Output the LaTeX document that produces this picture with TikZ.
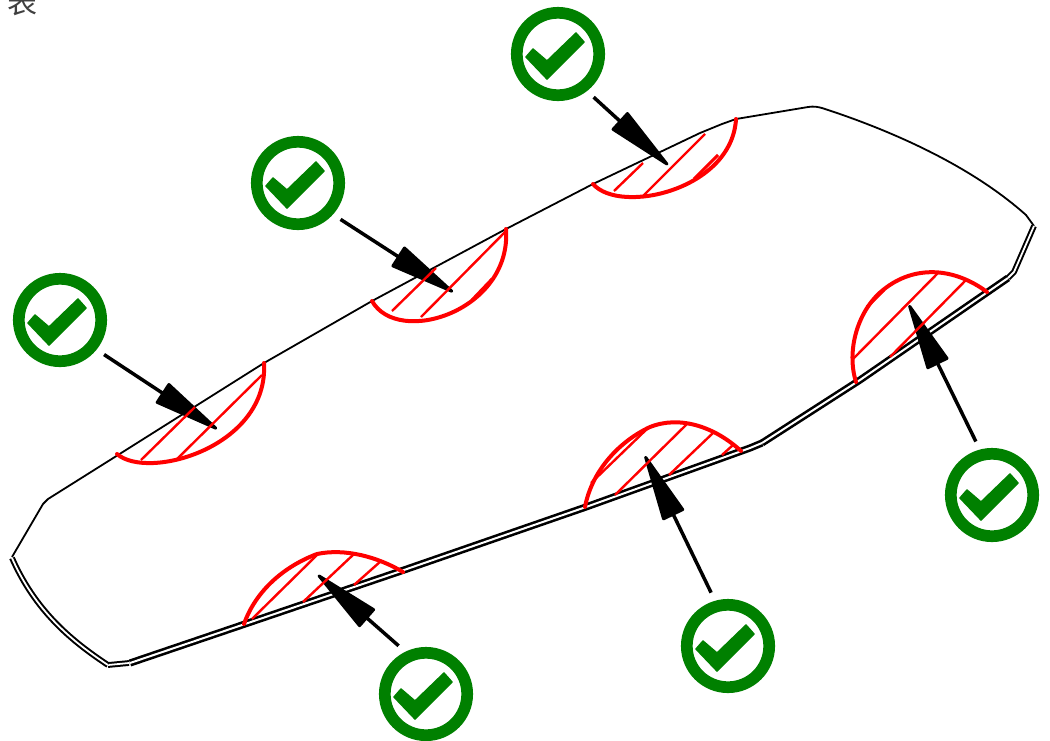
\documentclass[tikz,border=0pt]{standalone}
\usepackage{fontspec}
\usepackage{tikz}
\usetikzlibrary{arrows.meta}
\newfontfamily\cjkfont{Noto Sans CJK SC}
\definecolor{okgreen}{RGB}{0,128,0}
\tikzset{
	edgeline/.style={line width=1.8pt,line join=round},
	edgedouble/.style={line width=2.6pt,double=white,double distance=2pt,line join=round},
	edgethin/.style={line width=2pt,double=white,double distance=1.8pt,line join=round},
	okmark/.style={circle,draw=okgreen,line width=11.7pt,minimum size=82.4pt,inner sep=0pt,
		path picture={\filldraw[okgreen,line width=1.5pt,line join=round]
			([shift={(-32,3)}]path picture bounding box.center) --
			([shift={(-25,-5)}]path picture bounding box.center) --
			([shift={(-11,7)}]path picture bounding box.center) --
			([shift={(18,-21)}]path picture bounding box.center) --
			([shift={(26,-12)}]path picture bounding box.center) --
			([shift={(-11,25)}]path picture bounding box.center) -- cycle;}},
	okarrow/.style={line width=3.5pt,shorten <=9pt,
		-{Triangle[length=74pt,width=24pt,line width=3pt,round]}},
	redarc/.style={red,line width=4pt,line cap=round},
	redthick/.style={red,line width=3pt},
	redhatch/.style={red,line width=2.4pt}
}
\begin{document}
\begin{tikzpicture}[x=1pt,y=-1pt]
	
	\useasboundingbox (0,0) rectangle (1050,740);
	
	\node[text=black!75,font=\cjkfont\fontsize{30pt}{30pt}\selectfont,inner sep=0pt] (biao) at (23,2) {表};
	
	% outline
	\draw[edgeline] (12,557) -- (43,504) -- (48,499) -- (118,455) -- (264,363) -- (372,301)
		-- (506,229) -- (593,184) -- (700,133) -- (722,124) -- (736,119) -- (808,107)
		.. controls (814,106) and (818,107) .. (822,108)
		.. controls (890,130) and (970,165) .. (1026,215) -- (1034,226);
	\draw[edgethin] (1034,226) -- (1014,272) -- (1008,278);
	\draw[edgedouble] (1008,278) -- (860,380) -- (762,443);
	\draw[edgedouble] (762,443) -- (750,448) -- (586,507) -- (404,570) -- (245,624) -- (130,663);
	\draw[edgethin] (129,663) -- (108,665);
	\draw[edgethin] (108,665) .. controls (70,640) and (35,610) .. (12,558);
	
	% check marks
	\node[okmark] (ok1) at (60,320) {};
	\node[okmark] (ok2) at (298,183) {};
	\node[okmark] (ok3) at (558,54) {};
	\node[okmark] (ok4) at (992,495) {};
	\node[okmark] (ok5) at (728,646) {};
	\node[okmark] (ok6) at (426,694) {};
	
	\coordinate (tip1) at (217,429);
	\coordinate (tip2) at (453,292);
	\coordinate (tip3) at (668,165);
	\coordinate (tip4) at (909,305);
	\coordinate (tip5) at (645,456);
	\coordinate (tip6) at (318,575);
	
	\draw[okarrow] (ok1.-39) -- (tip1);
	\draw[okarrow] (ok2.-42) -- (tip2);
	\draw[okarrow] (ok3.-52) -- (tip3);
	\draw[okarrow] (ok4.105) -- (tip4);
	\draw[okarrow] (ok5.106) -- (tip5);
	\draw[okarrow] (ok6.116) -- (tip6);
	
	% hatched zones
	\draw[redarc] (117,454) .. controls (148,481) and (269,447) .. (264,363);
	\draw[redhatch] (141,460) -- (195,407);
	\draw[redhatch] (176,460) -- (262,375);
	
	\draw[redarc] (372,301) .. controls (398,347) and (512,311) .. (506,229);
	\draw[redthick] (472,300) -- (492,279);
	\draw[redhatch] (392,311) -- (436,268);
	\draw[redhatch] (421,317) -- (505,232);
	
	\draw[redarc] (593,184) .. controls (620,215) and (732,190) .. (736,119);
	\draw[redthick] (694,179) -- (718,155);
	\draw[redhatch] (614,191) -- (643,163);
	\draw[redhatch] (643,196) -- (705,134);
	
	\draw[redarc] (856,382) .. controls (846,350) and (858,310) .. (883,290)
		.. controls (915,264) and (955,268) .. (987,292);
	\draw[redthick] (867,307) -- (884,290);
	\draw[redhatch] (853,359) -- (938,273);
	\draw[redhatch] (890,357) -- (966,280);
	
	\draw[redarc] (585,507) .. controls (592,470) and (620,441) .. (650,427)
		.. controls (680,415) and (715,427) .. (741,451);
	\draw[redhatch] (591,483) -- (649,427);
	\draw[redhatch] (615,495) -- (687,424);
	\draw[redhatch] (669,475) -- (713,433);
	\draw[redhatch] (722,455) -- (733,445);
	
	\draw[redarc] (244,624) .. controls (256,590) and (285,566) .. (317,554)
		.. controls (345,548) and (378,557) .. (403,572);
	\draw[redhatch] (252,619) -- (317,555);
	\draw[redhatch] (303,602) -- (354,554);
	\draw[redhatch] (354,585) -- (381,561);
	
\end{tikzpicture}
\end{document}
